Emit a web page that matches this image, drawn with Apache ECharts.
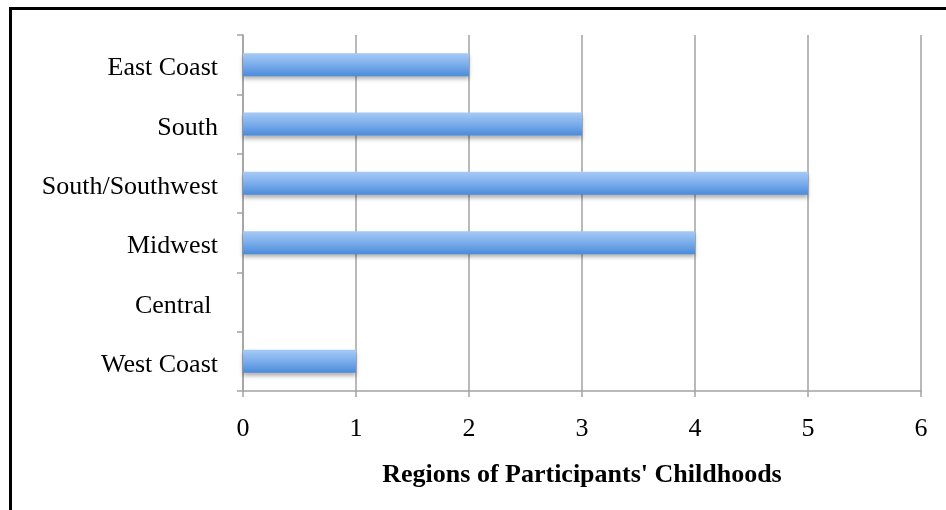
<!DOCTYPE html>
<html>
<head>
<meta charset="utf-8">
<script src="https://cdn.jsdelivr.net/npm/echarts@6/dist/echarts.min.js"></script>
<style>
  html, body { margin: 0; padding: 0; background: #fff; }
  #chart { width: 946px; height: 510px; }
</style>
</head>
<body>
<div id="chart"></div>
<script>
// Childhood regions of participants, bottom-to-top order on the category axis
const regions = ['West Coast', 'Central ', 'Midwest', 'South/Southwest', 'South', 'East Coast'];
const counts = [1, 0, 4, 5, 3, 2];
const xTicks = [0, 1, 2, 3, 4, 5, 6];
const axisTitle = "Regions of Participants' Childhoods";

const chart = echarts.init(document.getElementById('chart'), null, { renderer: 'canvas' });
const serif = '"Liberation Serif", "DejaVu Serif", serif';
const gray = '#a2a2a2';

chart.setOption({
  animation: false,
  backgroundColor: '#ffffff',
  grid: { left: 243, right: 25, top: 35, bottom: 119, containLabel: false },
  graphic: [
    // frame: top and left edges
    { type: 'line', shape: { x1: 9, y1: 8.5, x2: 946, y2: 8.5 }, style: { stroke: '#000', lineWidth: 3 } },
    { type: 'line', shape: { x1: 10.5, y1: 8, x2: 10.5, y2: 510 }, style: { stroke: '#000', lineWidth: 3 } },
    // value axis title
    {
      type: 'text', x: 582, y: 475,
      style: {
        text: axisTitle, font: 'bold 26px ' + serif, fill: '#000',
        textAlign: 'center', textVerticalAlign: 'middle'
      }
    }
  ],
  xAxis: {
    type: 'value',
    min: xTicks[0],
    max: xTicks[xTicks.length - 1],
    interval: 1,
    axisLine: { show: true, lineStyle: { color: gray, width: 1.5 } },
    axisTick: { show: true, length: 6, lineStyle: { color: gray, width: 1.5 } },
    splitLine: { show: true, lineStyle: { color: gray, width: 1.5 } },
    axisLabel: { margin: 25, color: '#000', fontFamily: serif, fontSize: 26 }
  },
  yAxis: {
    type: 'category',
    data: regions,
    axisLine: { show: true, lineStyle: { color: gray, width: 1.5 } },
    axisTick: { show: true, length: 6, inside: false, lineStyle: { color: gray, width: 1.5 } },
    splitLine: { show: false },
    axisLabel: {
      margin: 25,
      formatter: v => '{r|' + v + '}',
      rich: {
        r: { color: '#000', fontFamily: serif, fontSize: 26, padding: [8, 0, 0, 0] }
      }
    }
  },
  series: [{
    type: 'bar',
    data: counts,
    barWidth: 23,
    itemStyle: {
      color: new echarts.graphic.LinearGradient(0, 0, 0, 1, [
        { offset: 0, color: '#a6caf6' },
        { offset: 0.5, color: '#7badeb' },
        { offset: 1, color: '#4a8bda' }
      ]),
      shadowColor: 'rgba(0,0,0,0.3)',
      shadowBlur: 4,
      shadowOffsetY: 3
    }
  }]
});
</script>
</body>
</html>
